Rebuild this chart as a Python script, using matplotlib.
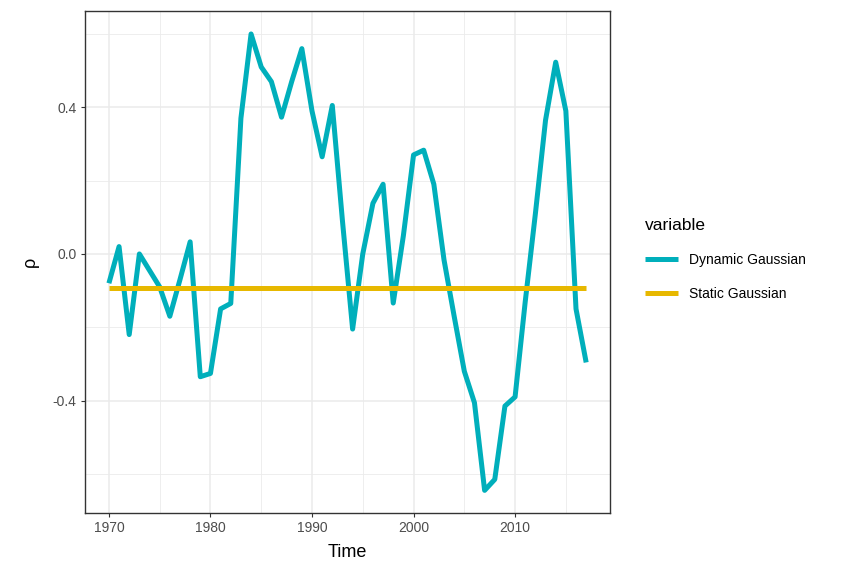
import matplotlib
matplotlib.use("Agg")
import matplotlib.pyplot as plt
from matplotlib.ticker import FixedLocator

plt.rcParams["font.family"] = ["Liberation Sans", "DejaVu Sans"]

years = list(range(1970, 2018))
dynamic = [-0.08, 0.02, -0.22, 0.00, -0.045, -0.09, -0.17, -0.07, 0.033, -0.335,
           -0.326, -0.15, -0.135, 0.37, 0.60, 0.51, 0.47, 0.373, 0.47, 0.56,
           0.39, 0.265, 0.405, 0.09, -0.205, 0.0, 0.138, 0.19, -0.134, 0.05,
           0.27, 0.283, 0.19, -0.016, -0.17, -0.32, -0.406, -0.645, -0.615, -0.415,
           -0.39, -0.13, 0.11, 0.365, 0.523, 0.39, -0.15, -0.296]
static = [-0.093] * len(years)
labels = ["Dynamic Gaussian", "Static Gaussian"]
colors = ["#00AFBB", "#E7B800"]

fig = plt.figure(figsize=(8.42, 5.62), dpi=100)
ax = fig.add_axes([0.101, 0.087, 0.6235, 0.893])

ax.plot(years, dynamic, color=colors[0], lw=3.6, label=labels[0],
        solid_joinstyle="round", solid_capstyle="butt")
ax.plot(years, static, color=colors[1], lw=3.6, label=labels[1], solid_capstyle="butt")

ax.set_xlim(1967.65, 2019.35)
ax.set_ylim(-0.707, 0.662)
ax.xaxis.set_major_locator(FixedLocator([1970, 1980, 1990, 2000, 2010]))
ax.xaxis.set_minor_locator(FixedLocator([1975, 1985, 1995, 2005, 2015]))
ax.yaxis.set_major_locator(FixedLocator([-0.4, 0.0, 0.4]))
ax.yaxis.set_minor_locator(FixedLocator([-0.6, -0.2, 0.2, 0.6]))
ax.set_yticklabels(["-0.4", "0.0", "0.4"])
ax.grid(which="major", color="#EBEBEB", lw=1.1)
ax.grid(which="minor", color="#EBEBEB", lw=0.6)
ax.set_axisbelow(True)
ax.tick_params(which="major", length=3, width=0.8, color="#333333", labelsize=10,
               labelcolor="#4D4D4D", pad=3)
ax.tick_params(which="minor", length=0)
for s in ax.spines.values():
    s.set_color("#333333")
    s.set_linewidth(1.0)

ax.set_xlabel("Time", fontsize=13, labelpad=6)
ax.set_ylabel("ρ", fontsize=13, labelpad=10)

leg = fig.legend(loc="upper left", bbox_to_anchor=(0.751, 0.635), title="variable",
                 frameon=False, fontsize=10, title_fontsize=12.5, handlelength=2.4,
                 labelspacing=1.45, handletextpad=0.75)
leg._legend_box.align = "left"

fig.savefig("out.png", dpi=100)
